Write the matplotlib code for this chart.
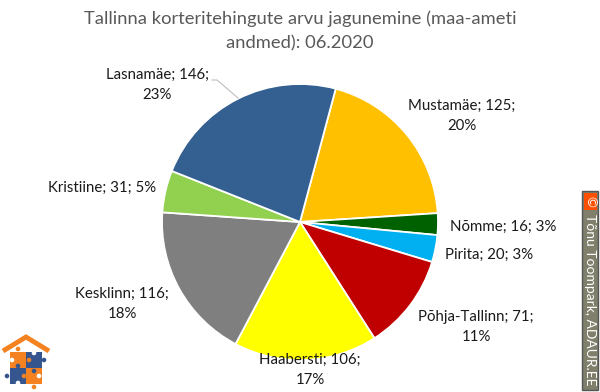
import matplotlib
matplotlib.use('Agg')
import matplotlib.pyplot as plt
from matplotlib.patches import Rectangle, Circle, Polygon

plt.rcParams['font.family'] = ['Lato', 'DejaVu Sans']

W = 600
H = 392

districts = ['Mustamäe', 'Nõmme', 'Pirita', 'Põhja-Tallinn', 'Haabersti', 'Kesklinn', 'Kristiine', 'Lasnamäe']
deals = [125, 16, 20, 71, 106, 116, 31, 146]
percents = [20, 3, 3, 11, 17, 18, 5, 23]
colors = ['#FFC000', '#006100', '#00B0F0', '#C00000', '#FFFF00', '#7F7F7F', '#92D050', '#335F91']

title = 'Tallinna korteritehingute arvu jagunemine (maa-ameti\nandmed): 06.2020'
credit = 'Tõnu Toompark, ADAUR.EE'

# label centres in pixels, same order as districts
label_xy = [(462, 116), (503, 227), (489, 255), (476, 327), (310, 370), (122, 304), (102, 188), (157, 85)]
two_lines = [True, False, False, True, True, True, False, True]

fig = plt.figure(figsize=(W / 100, H / 100), dpi=100)

# overlay in pixel coordinates, for texts and the corner bits
bg = fig.add_axes([0, 0, 1, 1], zorder=3)
bg.set_xlim(0, W)
bg.set_ylim(H, 0)
bg.axis('off')
bg.patch.set_alpha(0)

# pie
cx, cy, r = 300, 222, 138
ax = fig.add_axes([(cx - r) / W, 1 - (cy + r) / H, 2 * r / W, 2 * r / H], zorder=1)
ax.pie(deals, colors=colors, startangle=75, counterclock=False, radius=1,
       wedgeprops={'edgecolor': 'white', 'linewidth': 1.3})
ax.set_xlim(-1, 1)
ax.set_ylim(-1, 1)

bg.text(300, 31, title, ha='center', va='center', fontsize=13.2, color='#595959', linespacing=1.6)

for name, val, pct, xy, two in zip(districts, deals, percents, label_xy, two_lines):
    sep = '\n' if two else ' '
    bg.text(xy[0], xy[1], f'{name}; {val};{sep}{pct}%', ha='center', va='center',
            fontsize=10.8, color='#1a1a1a', linespacing=1.62)

# leader line for Lasnamae
bg.plot([212, 217, 238], [80, 80, 98], color='#BFBFBF', lw=0.8)

# watermark on the right
bg.add_patch(Rectangle((582, 191), 16, 199, fc='#7F7F6B', ec='#555555', lw=1))
bg.add_patch(Rectangle((584, 193), 13, 17, fc='#FF4F00', ec='none'))
bg.text(590.5, 201.5, '©', color='white', fontsize=9.5, rotation=-90, ha='center', va='center')
bg.text(590.5, 300, credit, color='white', fontsize=10.0, rotation=-90, ha='center', va='center')

# logo bottom left: roof and four puzzle pieces
orange = '#F58220'
blue = '#35558F'
bg.plot([3, 26, 49], [351, 337, 351], color=orange, lw=3.5, solid_capstyle='butt', solid_joinstyle='miter')
bg.add_patch(Rectangle((10, 352), 16, 16, fc=orange, ec='none'))
bg.add_patch(Rectangle((26, 352), 16, 16, fc=blue, ec='none'))
bg.add_patch(Rectangle((10, 368), 16, 16, fc=blue, ec='none'))
bg.add_patch(Rectangle((26, 368), 16, 16, fc=orange, ec='none'))
knobs = [(18, 349, orange), (12, 360, 'white'), (29, 360, orange), (34, 353, 'white'), (44, 360, blue),
         (18, 366, blue), (7, 376, blue), (24, 376, orange), (18, 383, 'white'), (34, 371, blue),
         (39, 376, 'white'), (34, 387, orange)]
for kx, ky, kc in knobs:
    bg.add_patch(Circle((kx, ky), 2.3, fc=kc, ec='none'))

fig.savefig('out.png', dpi=100, facecolor='white')
